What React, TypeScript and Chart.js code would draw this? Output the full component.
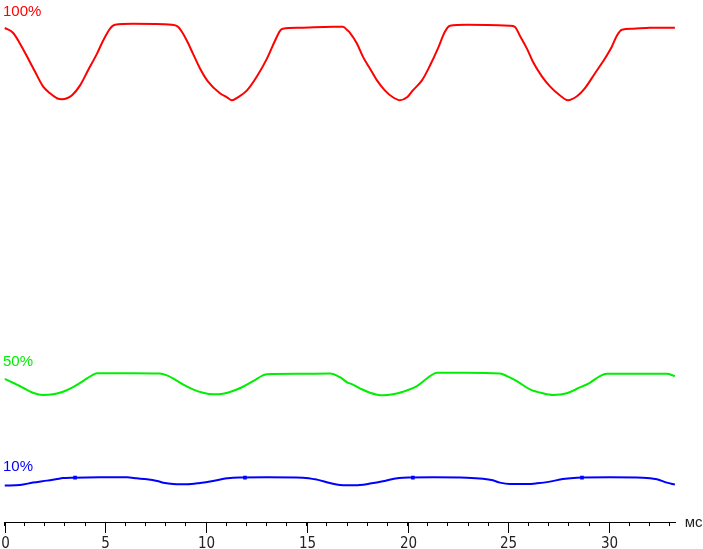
import { useEffect, useRef } from 'react'
import { Chart, registerables, Plugin } from 'chart.js'

Chart.register(...registerables)

// time in ms, brightness in arbitrary units
const redTime = [
  0, 0.42, 0.77, 1.12, 1.51, 1.91, 2.26, 2.6, 2.85, 3.1, 3.35, 3.75, 4.14, 4.59, 4.89, 5.23, 5.48, 6.37,
  8.31, 8.61, 8.8, 9.05, 9.35, 9.7, 10.09, 10.69, 11.04, 11.28, 11.58, 12.03, 12.52, 13.02, 13.42, 13.67,
  13.81, 14.66, 16.29, 16.79, 17.04, 17.14, 17.49, 17.78, 18.13, 18.48, 18.87, 19.27, 19.62, 19.97, 20.26,
  20.71, 21.11, 21.5, 21.85, 22.1, 22.94, 25.07, 25.32, 25.57, 25.92, 26.21, 26.66, 27.06, 27.55, 27.95,
  28.4, 28.79, 29.29, 29.69, 30.13, 30.38, 30.63, 31.18, 32.02, 33.26
]
const redValue = [
  99.6, 98.6, 96.4, 93.8, 90.8, 87.8, 86.4, 85.4, 85.2, 85.4, 86.0, 88.0, 91.0, 94.4, 97.0, 99.4, 100.2, 100.4,
  100.2, 99.8, 98.8, 97.0, 94.4, 91.4, 88.8, 86.4, 85.6, 85.0, 85.6, 87.0, 89.8, 93.4, 97.0, 99.0,
  99.4, 99.6, 99.8, 99.8, 99.0, 98.6, 96.4, 93.8, 91.4, 89.0, 87.0, 85.6, 85.0, 85.6, 87.0,
  89.0, 92.0, 95.4, 98.8, 100.0, 100.2, 100.0, 99.8, 98.0, 95.4, 92.8, 89.8, 87.8, 86.0, 85.0,
  85.8, 87.4, 90.4, 92.8, 95.8, 98.0, 99.2, 99.4, 99.6, 99.6
]

const greenTime = [
  0, 0.42, 0.92, 1.41, 1.91, 2.41, 2.9, 3.4, 3.89, 4.34, 4.59, 6.37, 7.71, 8.06, 8.36, 8.85, 9.35, 9.85,
  10.34, 10.84, 11.33, 11.83, 12.33, 12.82, 13.02, 14.66, 16.15, 16.64, 17.04, 17.14, 17.63, 18.13, 18.77,
  19.27, 19.77, 20.46, 21.11, 21.45, 22.94, 24.58, 24.93, 25.42, 26.07, 26.71, 27.21, 27.9, 28.4, 29.04,
  29.54, 29.89, 31.18, 32.86, 33.26
]
const greenValue = [
  28.86, 28.06, 27.06, 26.06, 25.6, 25.74, 26.26, 27.2, 28.4, 29.54, 30.0, 30.0, 29.94, 29.54, 28.94, 27.74, 26.74, 26.06,
  25.74, 25.86, 26.4, 27.26, 28.4, 29.54, 29.8, 29.86, 29.94, 29.2, 28.06, 27.94, 26.94, 26.06, 25.54,
  25.74, 26.26, 27.4, 29.4, 30.06, 30.06, 29.94, 29.4, 28.4, 26.74, 25.94, 25.6, 25.94, 26.86, 28.06,
  29.4, 29.86, 29.86, 29.86, 29.4
]

const blueTime = [
  0, 0.77, 1.41, 2.11, 2.6, 2.9, 3.4, 4.74, 6.08, 6.57, 7.07, 7.57, 7.96, 8.36, 8.71, 9.05, 9.7, 10.34,
  11.04, 11.33, 13.02, 14.81, 15.5, 16.15, 16.64, 17.04, 17.63, 18.13, 18.77, 19.27, 19.77, 21.26, 22.94,
  23.74, 24.23, 24.58, 25.07, 25.92, 26.41, 27.06, 27.7, 28.4, 30.03, 31.67, 32.37, 32.86, 33.26
]
const blueValue = [
  7.34, 7.46, 7.94, 8.34, 8.66, 8.86, 8.94, 9.0, 9.0, 8.8, 8.6, 8.26, 7.86, 7.66, 7.6, 7.6, 7.86, 8.26,
  8.8, 8.94, 9.0, 8.94, 8.54, 7.86, 7.46, 7.4, 7.46, 7.74, 8.2, 8.66, 8.94, 9.0, 8.94,
  8.74, 8.4, 7.94, 7.66, 7.66, 7.8, 8.14, 8.66, 8.94, 9.0, 8.94, 8.6, 7.94, 7.54
]
// small square blobs on the blue trace
const blueMarkTime = [3.5, 11.93, 20.26, 28.65]
const blueMarkValue = [8.95, 8.95, 8.95, 8.95]

const seriesLabels = ['100%', '50%', '10%']
const seriesColors = ['#ff0000', '#00ee00', '#0000ff']
const labelValues = [102, 31.4, 10.2]

const xTickLabels = [0, 5, 10, 15, 20, 25, 30]
const xMax = 33.3
const yMax = 104.4
const unitLabel = 'мс'

const toPoints = (t: number[], v: number[]) => t.map((x, i) => ({ x, y: v[i] }))

const axisExtras: Plugin<'line'> = {
  id: 'axisExtras',
  afterDraw(chart) {
    const { ctx, chartArea, scales } = chart
    const xs = scales.x
    const ys = scales.y
    ctx.save()
    // long ticks + labels every 5 ms
    ctx.strokeStyle = '#000'
    ctx.lineWidth = 1
    ctx.fillStyle = '#222'
    ctx.font = '15px "Liberation Sans Narrow", "DejaVu Sans Condensed", Arial, sans-serif'
    ctx.textAlign = 'center'
    ctx.textBaseline = 'alphabetic'
    xTickLabels.forEach((v) => {
      const px = Math.round(xs.getPixelForValue(v)) + 0.5
      ctx.beginPath()
      ctx.moveTo(px, chartArea.bottom)
      ctx.lineTo(px, chartArea.bottom + 11)
      ctx.stroke()
      ctx.fillText(String(v), px, chartArea.bottom + 26)
    })
    // unit
    ctx.font = '15px "Liberation Sans", Arial, sans-serif'
    ctx.textAlign = 'left'
    ctx.fillText(unitLabel, chartArea.right + 9, chartArea.bottom + 5)
    // series names
    seriesLabels.forEach((s, i) => {
      ctx.fillStyle = seriesColors[i]
      ctx.fillText(s, xs.getPixelForValue(0) - 1.5, ys.getPixelForValue(labelValues[i]))
    })
    ctx.restore()
  }
}

export default function App() {
  const canvasRef = useRef<HTMLCanvasElement>(null)
  const chartRef = useRef<Chart<'line'> | null>(null)

  useEffect(() => {
    document.body.style.margin = '0'
    if (!canvasRef.current) return
    if (chartRef.current) chartRef.current.destroy()

    const line = (data: { x: number; y: number }[], color: string) => ({
      data,
      borderColor: color,
      backgroundColor: color,
      borderWidth: 2,
      pointRadius: 0,
      cubicInterpolationMode: 'monotone' as const,
      fill: false
    })

    chartRef.current = new Chart(canvasRef.current, {
      type: 'line',
      data: {
        datasets: [
          line(toPoints(redTime, redValue), seriesColors[0]),
          line(toPoints(greenTime, greenValue), seriesColors[1]),
          line(toPoints(blueTime, blueValue), seriesColors[2]),
          {
            data: toPoints(blueMarkTime, blueMarkValue),
            showLine: false,
            pointStyle: 'rect',
            pointRadius: 2.6,
            borderWidth: 0,
            backgroundColor: seriesColors[2],
            borderColor: seriesColors[2]
          }
        ]
      },
      options: {
        responsive: true,
        maintainAspectRatio: false,
        animation: false,
        layout: { padding: { left: 4.5, right: 27.3, top: 0, bottom: 23 } },
        plugins: {
          legend: { display: false },
          tooltip: { enabled: false }
        },
        scales: {
          x: {
            type: 'linear',
            min: 0,
            max: xMax,
            grid: {
              drawOnChartArea: false,
              drawTicks: true,
              tickLength: 4,
              tickColor: '#000',
              tickWidth: 1
            },
            border: { display: true, color: '#000', width: 1 },
            ticks: {
              display: false,
              stepSize: 1,
              includeBounds: false,
              autoSkip: false,
              maxTicksLimit: 100
            }
          },
          y: {
            display: false,
            min: 0,
            max: yMax
          }
        }
      },
      plugins: [axisExtras]
    })

    return () => {
      if (chartRef.current) {
        chartRef.current.destroy()
        chartRef.current = null
      }
    }
  }, [])

  return (
    <div style={{ width: '703px', height: '549px', overflow: 'hidden' }}>
      <canvas ref={canvasRef}></canvas>
    </div>
  )
}
